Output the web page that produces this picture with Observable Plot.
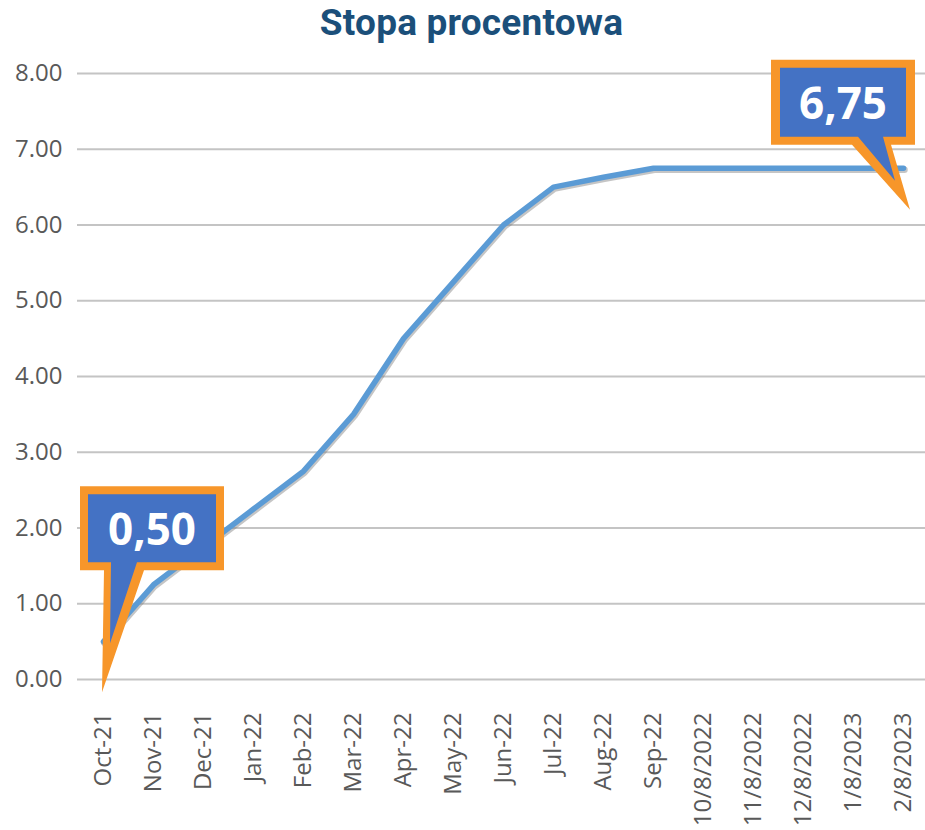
<!DOCTYPE html>
<html><head><meta charset="utf-8">
<script src="https://cdn.jsdelivr.net/npm/d3@7"></script>
<script src="https://cdn.jsdelivr.net/npm/@observablehq/plot@0.6"></script>
<style>
body{margin:0;background:#fff;}
#title{height:50px;line-height:46px;text-align:center;padding-left:18px;font-family:Roboto,sans-serif;font-weight:700;font-size:37px;color:#1B4F7A;letter-spacing:0.2px;}
</style></head><body>
<div id="title">Stopa procentowa</div>
<div id="chart"></div>
<script>
const months = ["Oct-21","Nov-21","Dec-21","Jan-22","Feb-22","Mar-22","Apr-22","May-22","Jun-22","Jul-22","Aug-22","Sep-22","10/8/2022","11/8/2022","12/8/2022","1/8/2023","2/8/2023"];
const rates = [0.50,1.25,1.75,2.25,2.75,3.50,4.50,5.25,6.00,6.50,6.63,6.75,6.75,6.75,6.75,6.75,6.75];
const yTicks = [0,1,2,3,4,5,6,7,8];

const data = months.map((m, i) => ({month: m, rate: rates[i]}));
const calloutPoints = [data[0], data[data.length - 1]];
const fmtLabel = v => d3.format(".2f")(v).replace(".", ",");

// callout geometry, relative to the anchored data point (pixels)
const shapes = [
  {outer: {x0:-23,x1:121,y0:-155,y1:-71,t0:1,t1:41,tip:[-1,51]},
   inner: {x0:-15,x1:113,y0:-147,y1:-79,t0:8,t1:34,tip:[7,2]}},
  {outer: {x0:-132,x1:12,y0:-108,y1:-23,t0:-51,t1:-12,tip:[7,42]},
   inner: {x0:-123,x1:3,y0:-100,y1:-31,t0:-45,t1:-20,tip:[-8,13]}}
];
function poly(px, py, s) {
  const p = [[s.x0,s.y0],[s.x1,s.y0],[s.x1,s.y1],[s.t1,s.y1],s.tip,[s.t0,s.y1],[s.x0,s.y1]];
  return "M" + p.map(([dx,dy]) => `${px+dx},${py+dy}`).join("L") + "Z";
}
function calloutMark(index, scales) {
  const g = d3.create("svg:g");
  calloutPoints.forEach((d, i) => {
    const px = scales.x(d.month), py = scales.y(d.rate);
    const s = shapes[i];
    g.append("path").attr("d", poly(px, py, s.outer)).attr("fill", "#F7962A");
    g.append("path").attr("d", poly(px, py, s.inner)).attr("fill", "#4472C4");
    g.append("text")
      .attr("x", px + (s.outer.x0 + s.outer.x1) / 2)
      .attr("y", py + (s.outer.y0 + s.outer.y1) / 2)
      .attr("text-anchor", "middle")
      .attr("dominant-baseline", "central")
      .attr("fill", "#fff")
      .attr("font-family", "'Open Sans', sans-serif")
      .attr("font-weight", 700)
      .attr("font-size", 44)
      .text(fmtLabel(d.rate));
  });
  return g.node();
}

const plot = Plot.plot({
  width: 925,
  height: 780,
  marginTop: 23,
  marginBottom: 151,
  marginLeft: 77,
  marginRight: 0,
  style: {fontFamily: "'Open Sans', sans-serif", fontSize: "24px", color: "#595959", background: "#fff"},
  x: {type: "point", domain: months, range: [101, 905], padding: 0, tickRotate: -90, tickSize: 0, tickPadding: 33, label: null},
  y: {domain: [0, 8], ticks: yTicks, tickFormat: d3.format(".2f"), tickSize: 0, tickPadding: 15, label: null},
  marks: [
    Plot.ruleY(yTicks, {stroke: "#c4c4c4", strokeWidth: 2}),
    Plot.line(data, {x: "month", y: "rate", stroke: "#7f7f7f", strokeOpacity: 0.45, strokeWidth: 6.5, dx: 1, dy: 1.5}),
    Plot.line(data, {x: "month", y: "rate", stroke: "#5B9BD5", strokeWidth: 5.5}),
    calloutMark
  ]
});
document.getElementById("chart").appendChild(plot);
</script>
</body></html>
